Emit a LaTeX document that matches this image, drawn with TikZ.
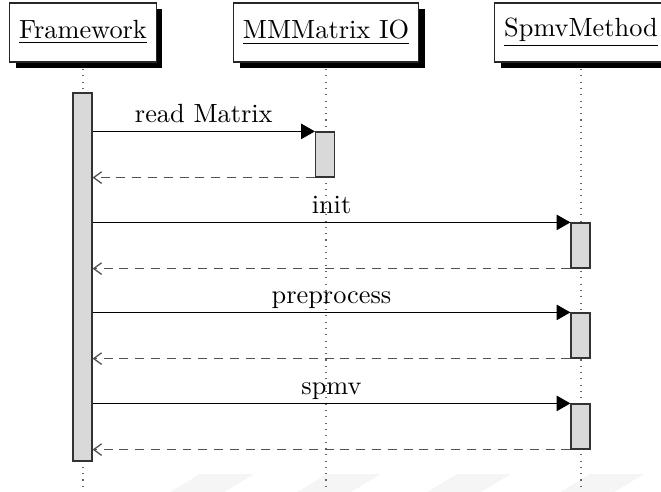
\documentclass[tikz,border=0pt]{standalone}
\usetikzlibrary{arrows.meta,shadows,calc}
\pgfdeclarelayer{background}
\pgfsetlayers{background,main}
\begin{document}
\begin{tikzpicture}[x=0.38pt,y=-0.38pt,
  instance/.style={draw=black!85, fill=white, line width=0.5pt,
    inner xsep=3.6pt, inner ysep=0pt, minimum height=22.4pt,
    drop shadow={shadow xshift=2.3pt, shadow yshift=-2.3pt, fill=black, opacity=1}},
  act/.style={draw=black!80, fill=black!15, line width=0.45pt,
    inner sep=0pt, minimum width=19*0.38pt},
  lifeline/.style={draw=black!60, line width=0.4pt, dotted},
  call/.style={draw=black, line width=0.45pt, -{Triangle[length=5.2pt,width=5.8pt]}},
  ret/.style={draw=black!68, line width=0.5pt, dash pattern=on 3.4pt off 2.6pt,
    -{Straight Barb[length=3pt,width=4.4pt]}},
  msg/.style={midway, anchor=base, yshift=3.4pt, inner sep=0pt},
  stripe/.style={fill=black!4, draw=none}
]
\useasboundingbox (0,0) rectangle (661,492);
\clip (0,0) rectangle (661,492);
\coordinate (bottom) at (0,492);

% instances
\node[instance] (fw) at (83,32.5)  {\underline{Framework}};
\node[instance] (mm) at (326,32.5) {\underline{MMMatrix IO}};
\node[instance] (sp) at (581,32.5) {\underline{SpmvMethod}};

% lifelines and faint stripes behind everything
\begin{pgfonlayer}{background}
  \foreach \x in {200,327,457,590}
    \fill[stripe] (\x,474) -- (\x+54,474) -- (\x+21,494) -- (\x-33,494) -- cycle;
  \draw[lifeline] (fw.south) -- (fw.south |- bottom);
  \draw[lifeline] (mm.south) -- (mm.south |- bottom);
  \draw[lifeline] (sp.south) -- (sp.south |- bottom);
\end{pgfonlayer}

% activations
\node[act, minimum height=368*0.38pt] (fwact) at (82.5,277) {};
\node[act, minimum height=45*0.38pt]  (ioact) at (325,154.5) {};
\node[act, minimum height=45*0.38pt]  (spinit) at (580.5,245.5) {};
\node[act, minimum height=45*0.38pt]  (sppre) at (580.5,335.5) {};
\node[act, minimum height=45*0.38pt]  (spmv) at (580.5,426.5) {};

% messages
\draw[call] (fwact.east |- ioact.north west) -- (ioact.north west)
  node[msg] {read Matrix};
\draw[ret] (ioact.south west) -- (fwact.east |- ioact.south west);

\draw[call] (fwact.east |- spinit.north west) -- (spinit.north west)
  node[msg] {init};
\draw[ret] (spinit.south west) -- (fwact.east |- spinit.south west);

\draw[call] (fwact.east |- sppre.north west) -- (sppre.north west)
  node[msg] {preprocess};
\draw[ret] (sppre.south west) -- (fwact.east |- sppre.south west);

\draw[call] (fwact.east |- spmv.north west) -- (spmv.north west)
  node[msg] {spmv};
\draw[ret] (spmv.south west) -- (fwact.east |- spmv.south west);
\end{tikzpicture}
\end{document}
